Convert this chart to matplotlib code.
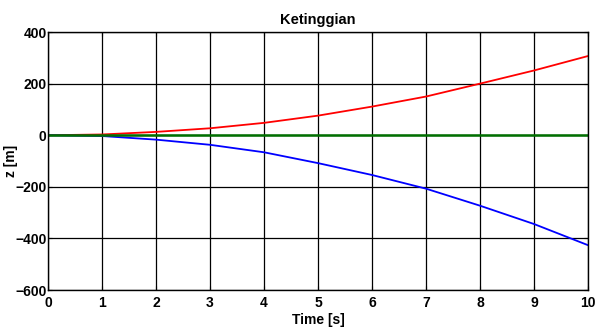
import matplotlib
matplotlib.use('Agg')
import matplotlib.pyplot as plt

plt.rcParams['font.family'] = ['Liberation Sans', 'DejaVu Sans']
plt.rcParams['font.weight'] = 'bold'

# values
time = [0, 1, 2, 3, 4, 5, 6, 7, 8, 9, 10]
z_red = [0, 3, 13, 27, 48, 76, 111, 150, 200, 251, 307]
z_blue = [0, -3, -17, -37, -66, -108, -154, -207, -273, -344, -426]
z_green = [0, 0, 0, 0, 0, 0, 0, 0, 0, 0, 0]

xticks = [0, 1, 2, 3, 4, 5, 6, 7, 8, 9, 10]
yticks = [-600, -400, -200, 0, 200, 400]

fig = plt.figure(figsize=(5.96, 3.27), dpi=100)
ax = fig.add_axes([0.0805, 0.113, 0.906, 0.789])

ax.plot(time, z_red, color='#ff0000', lw=1.3)
ax.plot(time, z_blue, color='#0000ff', lw=1.3)
ax.plot(time, z_green, color='#007000', lw=1.8)

ax.set_xlim(0, 10)
ax.set_ylim(-600, 400)
ax.set_xticks(xticks)
ax.set_yticks(yticks)
ax.grid(True, color='black', lw=0.9, ls='-')
ax.tick_params(direction='in', length=3, labelsize=10, pad=1, top=True, right=True)
ax.tick_params(axis='x', pad=4)
for lab in ax.get_xticklabels() + ax.get_yticklabels():
    lab.set_fontweight('bold')
for s in ax.spines.values():
    s.set_linewidth(1.0)

ax.set_title('Ketinggian', fontsize=10.5, fontweight='bold', pad=6)
ax.set_xlabel('Time [s]', fontsize=10, fontweight='bold', labelpad=0)
ax.set_ylabel('z [m]', fontsize=10, fontweight='bold')
ax.xaxis.set_label_coords(0.5, -0.09)
ax.yaxis.set_label_coords(-0.055, 0.5)

fig.savefig('out.png', dpi=100)
